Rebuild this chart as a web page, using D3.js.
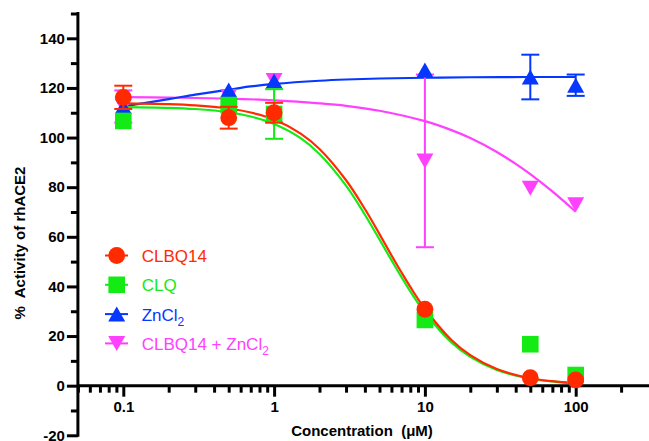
<!DOCTYPE html>
<html>
<head>
<meta charset="utf-8">
<script src="https://cdn.jsdelivr.net/npm/d3@7"></script>
<style>
  body { margin: 0; background: #fff; }
  svg { display: block; font-family: Arial, "Liberation Sans", sans-serif; }
  .axis path, .axis line { stroke: #000; }
  .axis text { font-size: 15px; font-weight: bold; fill: #000; }
</style>
</head>
<body>
<script>
// measured points
const conc = [0.1, 0.5, 1, 10, 50, 100];
const clbq14 = [116.2, 108.0, 110.0, 30.8, 3.2, 2.3];
const clbq14Err = [4.7, 4.4, 4.0, 0, 0, 0];
const clq = [106.7, 113.1, 109.5, 26.5, 16.7, 4.3];
const clqErr = [0, 0, 10, 0, 0, 0];
const zncl2 = [112.5, 119.2, 122.8, 127.2, 124.4, 121.1];
const zncl2Err = [0, 0, 0, 0, 9, 4.3];
const combo = [112.5, 116.5, 123, 90.6, 79.6, 72.9];
const comboErr = [6.5, 0, 0, 34.8, 0, 0];

// fitted curves
const fitConc = [0.1, 0.2, 0.3, 0.5, 0.7, 1, 1.5, 2, 3, 4, 5, 6, 7, 8, 10, 15, 20, 30, 50, 70, 100];
const clbq14Fit = [113.8, 113.5, 113.0, 111.7, 110.1, 107.3, 101.6, 95.4, 82.8, 71.2, 61.1, 52.6, 45.6, 39.8, 31.0, 18.4, 12.3, 6.7, 3.0, 1.8, 1.0];
const clqFit = [112.3, 112.0, 111.5, 110.2, 108.5, 105.5, 99.8, 93.4, 80.6, 68.9, 58.9, 50.6, 43.7, 38.0, 29.5, 17.4, 11.6, 6.3, 2.8, 1.7, 0.9];
const zncl2FitConc = [0.1, 0.2, 0.3, 0.5, 0.7, 1, 2, 3, 5, 10, 20, 50, 100];
const zncl2Fit = [112.6, 115.5, 117.3, 119.3, 120.6, 121.6, 122.9, 123.4, 123.8, 124.1, 124.3, 124.4, 124.4];
const comboFitConc = [0.1, 0.2, 0.5, 1, 2, 3, 5, 10, 15, 20, 30, 40, 50, 70, 100];
const comboFit = [116.3, 116.1, 115.7, 115.0, 113.8, 112.8, 110.8, 106.6, 103.0, 99.8, 94.2, 89.4, 85.3, 78.3, 70.1];

// ticks
const yMajor = [-20, 0, 20, 40, 60, 80, 100, 120, 140];
const yMinor = [-10, 10, 30, 50, 70, 90, 110, 130, 150];
const xMajor = [0.1, 1, 10, 100];
const xMinor = [0.05, 0.06, 0.07, 0.08, 0.09, 0.2, 0.3, 0.4, 0.5, 0.6, 0.7, 0.8, 0.9,
  2, 3, 4, 5, 6, 7, 8, 9, 20, 30, 40, 50, 60, 70, 80, 90, 200];

const W = 649, H = 441;
const svg = d3.select('body').append('svg').attr('width', W).attr('height', H);

const x = d3.scaleLog().domain([0.1, 100]).range([123.3, 575.7]);
const y = d3.scaleLinear().domain([-20, 150]).range([435.3, 13.5]);
const x0 = x(0.05);

const series = [
  {name: 'CLBQ14 + ZnCl', sub: '2', color: '#ff40ff', shape: 'down', vals: combo, err: comboErr, fx: comboFitConc, fy: comboFit},
  {name: 'ZnCl', sub: '2', color: '#0537ff', shape: 'up', vals: zncl2, err: zncl2Err, fx: zncl2FitConc, fy: zncl2Fit},
  {name: 'CLQ', sub: '', color: '#14ea14', shape: 'square', vals: clq, err: clqErr, fx: fitConc, fy: clqFit},
  {name: 'CLBQ14', sub: '', color: '#ff2a00', shape: 'circle', vals: clbq14, err: clbq14Err, fx: fitConc, fy: clbq14Fit}
];

function marker (sel, shape, color) {
  if (shape === 'circle') {
    sel.append('circle').attr('r', 8.4).attr('fill', color);
  } else if (shape === 'square') {
    sel.append('rect').attr('x', -8.3).attr('y', -8.3).attr('width', 16.6).attr('height', 16.6).attr('fill', color);
  } else if (shape === 'up') {
    sel.append('path').attr('d', 'M0,-7.5L8.5,7.5L-8.5,7.5Z').attr('fill', color);
  } else {
    sel.append('path').attr('d', 'M-8.5,-7.5L8.5,-7.5L0,7.5Z').attr('fill', color);
  }
}

// axes
const yAxisMinor = svg.append('g').attr('class', 'axis')
  .attr('transform', `translate(${x0},0)`)
  .call(d3.axisLeft(y).tickValues(yMinor).tickSize(7).tickFormat(''));
yAxisMinor.selectAll('line').attr('stroke-width', 3);
yAxisMinor.select('.domain').remove();

const yAxis = svg.append('g').attr('class', 'axis')
  .attr('transform', `translate(${x0},0)`)
  .call(d3.axisLeft(y).tickValues(yMajor).tickSize(11).tickPadding(2).tickFormat(d => String(d)));
yAxis.selectAll('line').attr('stroke-width', 3);
yAxis.select('.domain').remove();

const xAxisMinor = svg.append('g').attr('class', 'axis')
  .attr('transform', `translate(0,${y(0)})`)
  .call(d3.axisBottom(x).tickValues(xMinor).tickSize(7).tickFormat(''));
xAxisMinor.selectAll('line').attr('stroke-width', 3);
xAxisMinor.select('.domain').remove();

const xAxis = svg.append('g').attr('class', 'axis')
  .attr('transform', `translate(0,${y(0)})`)
  .call(d3.axisBottom(x).tickValues(xMajor).tickSize(11).tickPadding(5).tickFormat(d => String(d)));
xAxis.selectAll('line').attr('stroke-width', 3);
xAxis.select('.domain').remove();

svg.append('line').attr('x1', x0).attr('x2', W).attr('y1', y(0)).attr('y2', y(0))
  .attr('stroke', '#000').attr('stroke-width', 3);
svg.append('line').attr('x1', x0).attr('x2', x0).attr('y1', y(150) - 1.5).attr('y2', y(-20) + 1.5)
  .attr('stroke', '#000').attr('stroke-width', 3);

// axis titles
svg.append('text')
  .attr('transform', `translate(25,243) rotate(-90)`)
  .attr('text-anchor', 'middle')
  .style('font-size', '15px').style('font-weight', 'bold')
  .text('%\u00a0 Activity of rhACE2');

svg.append('text')
  .attr('x', 362).attr('y', 436)
  .attr('text-anchor', 'middle')
  .style('font-size', '15px').style('font-weight', 'bold')
  .text('Concentration\u00a0 (\u03bcM)');

// curves, error bars, markers
const line = d3.line()
  .curve(d3.curveCatmullRom)
  .x(d => x(d[0]))
  .y(d => y(d[1]));

series.forEach(s => {
  svg.append('path')
    .attr('d', line(s.fx.map((c, i) => [c, s.fy[i]])))
    .attr('fill', 'none')
    .attr('stroke', s.color)
    .attr('stroke-width', 2.2);
});

series.forEach(s => {
  const g = svg.append('g');
  conc.forEach((c, i) => {
    const e = s.err[i];
    if (e > 0) {
      const cx = x(c);
      g.append('line').attr('x1', cx).attr('x2', cx)
        .attr('y1', y(s.vals[i] + e)).attr('y2', y(s.vals[i] - e))
        .attr('stroke', s.color).attr('stroke-width', 2);
      [s.vals[i] + e, s.vals[i] - e].forEach(v => {
        g.append('line').attr('x1', cx - 9).attr('x2', cx + 9)
          .attr('y1', y(v)).attr('y2', y(v))
          .attr('stroke', s.color).attr('stroke-width', 2);
      });
    }
    marker(g.append('g').attr('transform', `translate(${x(c)},${y(s.vals[i])})`), s.shape, s.color);
  });
});

// legend
const legendOrder = series.slice().reverse();
legendOrder.forEach((s, i) => {
  const by = 262 + i * 29.3;
  const g = svg.append('g');
  g.append('line').attr('x1', 105).attr('x2', 128).attr('y1', by - 6.5).attr('y2', by - 6.5)
    .attr('stroke', s.color).attr('stroke-width', 2);
  marker(g.append('g').attr('transform', `translate(116.7,${by - 6.5})`), s.shape, s.color);
  const t = g.append('text').attr('x', 141.7).attr('y', by)
    .style('font-size', '17px').attr('fill', s.color).text(s.name);
  if (s.sub) {
    t.append('tspan').attr('dy', 5).style('font-size', '12px').text(s.sub);
  }
});
</script>
</body>
</html>
